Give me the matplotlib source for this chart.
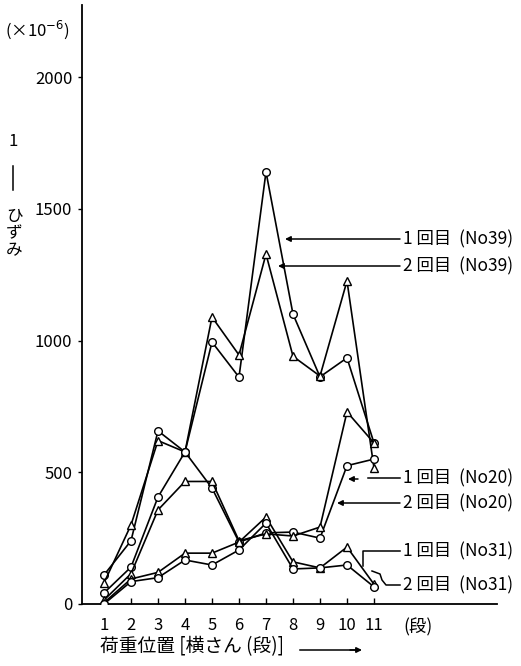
import matplotlib
matplotlib.use('Agg')
import matplotlib.pyplot as plt
from matplotlib.lines import Line2D

plt.rcParams['font.family'] = ['Noto Sans CJK JP', 'DejaVu Sans']

# load position (cross beam number) and strain values (x10^-6)
positions = [1, 2, 3, 4, 5, 6, 7, 8, 9, 10, 11]
no39_run1 = [110, 240, 657, 577, 994, 861, 1640, 1100, 862, 934, 611]
no39_run2 = [80, 300, 620, 577, 1089, 945, 1328, 940, 865, 1226, 516]
no20_run1 = [42, 140, 406, 577, 440, 235, 270, 273, 250, 525, 550]
no20_run2 = [15, 115, 357, 465, 465, 240, 266, 258, 292, 729, 611]
no31_run1 = [5, 95, 120, 193, 193, 235, 330, 160, 137, 216, 75]
no31_run2 = [0, 85, 100, 167, 148, 205, 307, 133, 137, 148, 65]

series = [
    (no39_run1, 'o'),
    (no39_run2, '^'),
    (no20_run1, 'o'),
    (no20_run2, '^'),
    (no31_run1, '^'),
    (no31_run2, 'o'),
]

W, H = 521, 666
fig = plt.figure(figsize=(W / 100, H / 100), dpi=100)
ax = fig.add_axes([82 / W, 62 / H, 415 / W, 599 / H])


def px(x, y):
    # reference pixel -> data coordinates
    return 1 + (x - 104) / 27, (604 - y) / 0.2635


def fpx(x, y):
    # reference pixel -> figure fraction
    return x / W, 1 - y / H


for vals, mk in series:
    ax.plot(positions, vals, color='black', lw=1.2, marker=mk, ms=5.5,
            mfc='white', mec='black', mew=1.0, zorder=3)

ax.set_xlim(px(82, 0)[0], px(497, 0)[0])
ax.set_ylim(0, px(0, 5)[1])
ax.set_xticks(positions)
ax.set_yticks([0, 500, 1000, 1500, 2000])
ax.tick_params(axis='x', direction='in', length=4, width=1, labelsize=12, pad=9)
ax.tick_params(axis='y', direction='out', length=3, width=1, labelsize=12, pad=4)
for s in ['top', 'right']:
    ax.spines[s].set_visible(False)
for s in ['left', 'bottom']:
    ax.spines[s].set_linewidth(1.3)

# callout labels
labels = [
    ('1 回目  (No39)', 239, 285),
    ('2 回目  (No39)', 266, 278),
    ('1 回目  (No20)', 478, None),
    ('2 回目  (No20)', 503, 337),
    ('1 回目  (No31)', 551, None),
    ('2 回目  (No31)', 585, None),
]
for txt, y, tip in labels:
    ax.text(*px(403, y), txt, fontsize=12.5, ha='left', va='center')
    if tip is not None:
        ax.annotate('', xy=px(tip, y), xytext=px(400, y),
                    arrowprops=dict(arrowstyle='-|>', color='black', lw=1.1,
                                    mutation_scale=8, shrinkA=0, shrinkB=0))

# No20 run 1: broken leader with short arrowhead
x0, y0 = px(368, 478)
x1, _ = px(400, 478)
ax.plot([x0, x1], [y0, y0], color='black', lw=1.1)
ax.annotate('', xy=px(348, 479), xytext=px(358, 479),
            arrowprops=dict(arrowstyle='-|>', color='black', lw=1.1,
                            mutation_scale=8, shrinkA=0, shrinkB=0))

# No31 run 1: elbow leader
pts = [px(400, 551), px(363, 551), px(363, 566)]
ax.plot([p[0] for p in pts], [p[1] for p in pts], color='black', lw=1.1)

# No31 run 2: curved leader
pts = [px(400, 585), px(386, 585), px(382, 580), px(380, 574), px(372, 571)]
ax.plot([p[0] for p in pts], [p[1] for p in pts], color='black', lw=1.1)

# axis annotations
fig.text(*fpx(5, 30), '(×10$^{-6}$)', fontsize=12, ha='left', va='center')
fig.text(*fpx(13, 142), '1', fontsize=12, ha='center', va='center')
fig.add_artist(Line2D([13 / W, 13 / W], [1 - 166 / H, 1 - 190 / H],
                      color='black', lw=1.1))
for ch, y in zip('ひずみ', [217, 234, 251]):
    fig.text(*fpx(14, y), ch, fontsize=12, ha='center', va='center')

fig.text(*fpx(403, 627), '(段)', fontsize=12.5, ha='left', va='center')
fig.text(*fpx(100, 647), '荷重位置 [横さん (段)]', fontsize=13.5,
         ha='left', va='center')
fig.add_artist(Line2D([300 / W, 356 / W], [1 - 650 / H, 1 - 650 / H],
                      color='black', lw=1.1))
plt.annotate('', xy=fpx(362, 650), xytext=fpx(350, 650), xycoords='figure fraction',
             arrowprops=dict(arrowstyle='-|>', color='black', lw=1.1,
                             mutation_scale=8, shrinkA=0, shrinkB=0))

fig.savefig('out.png', dpi=100)
